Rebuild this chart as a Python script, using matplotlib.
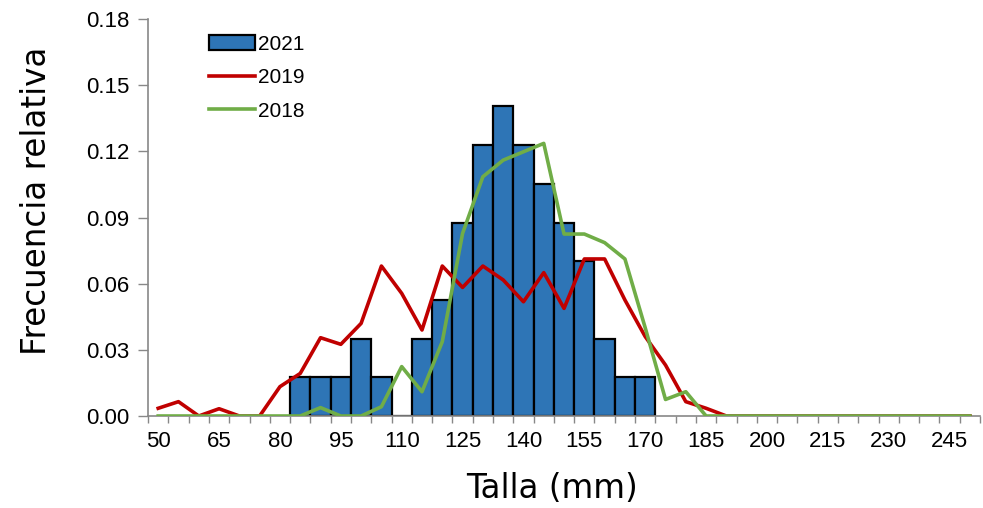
import matplotlib
matplotlib.use("Agg")
import matplotlib.pyplot as plt
import numpy as np

sizes = list(range(50, 255, 5))  # category centers 50..250 (mm)

# 2021 relative frequency (bars)
bar_sizes = [85, 90, 95, 100, 105, 110, 115, 120, 125, 130, 135, 140, 145, 150, 155, 160, 165, 170]
bar_freq = [0.0175, 0.0175, 0.0175, 0.035, 0.0175, 0.0, 0.035, 0.0526, 0.0877, 0.1228, 0.1404,
            0.1228, 0.1053, 0.0877, 0.0702, 0.035, 0.0175, 0.0175]

# 2019 relative frequency (red line), 50..250
freq_2019 = [0.0035, 0.0065, 0.0, 0.0033, 0.0, 0.0, 0.0133, 0.0193, 0.0355, 0.0325,
             0.042, 0.068, 0.0556, 0.039, 0.068, 0.0583, 0.068, 0.0617, 0.0518, 0.065,
             0.0488, 0.0712, 0.0712, 0.0526, 0.036, 0.0231, 0.0065, 0.0035, 0.0, 0.0,
             0.0, 0.0, 0.0, 0.0, 0.0, 0.0, 0.0, 0.0, 0.0, 0.0, 0.0]

# 2018 relative frequency (green line), 50..250
freq_2018 = [0.0, 0.0, 0.0, 0.0, 0.0, 0.0, 0.0, 0.0, 0.0038, 0.0,
             0.0, 0.0042, 0.0224, 0.011, 0.0337, 0.0828, 0.1085, 0.116, 0.1198, 0.1236,
             0.0825, 0.0825, 0.0786, 0.0712, 0.040, 0.0075, 0.011, 0.0, 0.0, 0.0,
             0.0, 0.0, 0.0, 0.0, 0.0, 0.0, 0.0, 0.0, 0.0, 0.0, 0.0]

xtick_labels = [50, 65, 80, 95, 110, 125, 140, 155, 170, 185, 200, 215, 230, 245]
yticks = [0.0, 0.03, 0.06, 0.09, 0.12, 0.15, 0.18]

plt.rcParams['font.family'] = ['Liberation Sans', 'DejaVu Sans']

fig = plt.figure(figsize=(9.83, 5.08), dpi=100)
ax = fig.add_axes([0.1506, 0.1811, 0.8464, 0.7815])

b = ax.bar(bar_sizes, bar_freq, width=5, color='#2E75B6', edgecolor='black', linewidth=1.6,
           label='2021', zorder=2)
l1, = ax.plot(sizes, freq_2019, color='#C00000', linewidth=2.6, label='2019', zorder=3)
l2, = ax.plot(sizes, freq_2018, color='#70AD47', linewidth=2.6, label='2018', zorder=4)

ax.set_xlim(47.5, 252.5)
ax.set_ylim(0, 0.18)
ax.set_yticks(yticks)
ax.set_yticklabels([f"{v:.2f}" for v in yticks])
ax.set_xticks(xtick_labels)
ax.set_xticklabels([str(v) for v in xtick_labels])
ax.set_xticks(np.arange(47.5, 253, 5), minor=True)
ax.tick_params(axis='x', which='major', length=0, pad=10.5, labelsize=16)
ax.tick_params(axis='x', which='minor', length=5, width=1, color='#888888', direction='out')
ax.tick_params(axis='y', which='major', length=7.5, width=1, color='#888888', labelsize=16, pad=6)

for s in ['top', 'right']:
    ax.spines[s].set_visible(False)
for s in ['left', 'bottom']:
    ax.spines[s].set_color('#888888')
    ax.spines[s].set_linewidth(1.2)

ax.set_xlabel('Talla (mm)', fontsize=23.5, family=['DejaVu Sans'])
ax.set_ylabel('Frecuencia relativa', fontsize=23.5, family=['DejaVu Sans'])
ax.xaxis.set_label_coords(0.486, -0.140)
ax.yaxis.set_label_coords(-0.114, 0.541)

leg = ax.legend(handles=[b, l1, l2], labels=['2021', '2019', '2018'],
                loc='upper left', bbox_to_anchor=(0.051, 1.008), frameon=False, fontsize=15,
                handlelength=2.2, handletextpad=0.15, labelspacing=0.7)

fig.savefig('out.png', dpi=100)
